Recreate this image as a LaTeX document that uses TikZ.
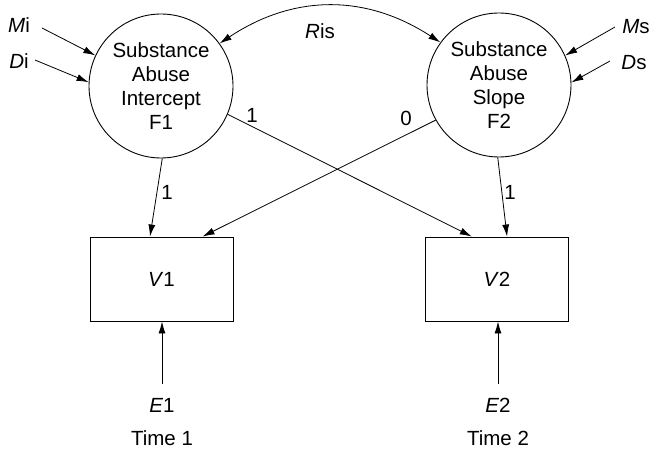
\documentclass[tikz,border=0pt]{standalone}
\usepackage{fontspec}
\setmainfont{Liberation Sans}
\usetikzlibrary{arrows.meta,calc}
\begin{document}
\begin{tikzpicture}[x=1pt,y=-1pt,
  every node/.style={font=\fontsize{20.5}{24}\selectfont},
  latent/.style={draw,circle,line width=0.9pt,minimum size=144pt,inner sep=0pt,align=center},
  observed/.style={draw,rectangle,line width=0.9pt,minimum width=143pt,minimum height=84pt,inner sep=0pt},
  path/.style={line width=0.8pt,-{Latex[length=12pt,width=7pt]}},
  txt/.style={inner sep=0pt}]
\useasboundingbox (0,0) rectangle (654,452);

% latent growth factors
\node[latent] (F1) at (161,86) {Substance\\Abuse\\Intercept\\F1};
\node[latent] (F2) at (499,85) {Substance\\Abuse\\Slope\\F2};

% observed measures
\node[observed] (V1) at (161.5,279) {\textit{V}1};
\node[observed] (V2) at (497,279) {\textit{V}2};

% means and disturbances
\node[txt] (Mi) at (19,25) {\textit{M}i};
\node[txt] (Di) at (19,61) {\textit{D}i};
\node[txt] (Ms) at (636,27) {\textit{M}s};
\node[txt] (Ds) at (634,63) {\textit{D}s};
\coordinate (mi0) at (42,28);
\coordinate (di0) at (35,60);
\coordinate (ms0) at (615,27);
\coordinate (ds0) at (610,61);
\draw[path] (mi0) -- (F1.155);
\draw[path] (di0) -- (F1.177);
\draw[path] (ms0) -- (F2.24);
\draw[path] (ds0) -- (F2.2);

% factor covariance
\node[txt] (Ris) at (320,31) {\textit{R}is};
\draw[line width=0.8pt,{Latex[length=12pt,width=7pt]}-{Latex[length=12pt,width=7pt]}]
  (F1.36) .. controls (294,-6) and (366,-6) .. (F2.144);

% loadings
\draw[path] (F1.-89) -- ($(V1.north west)!0.42!(V1.north east)$);
\draw[path] (F1.-23) -- ($(V2.north west)!0.325!(V2.north east)$);
\draw[path] (F2.-151) -- ($(V1.north west)!0.785!(V1.north east)$);
\draw[path] (F2.-91) -- ($(V2.north west)!0.57!(V2.north east)$);
\node[txt] (l11) at (167,192) {1};
\node[txt] (l12) at (252,115) {1};
\node[txt] (l21) at (406,118) {0};
\node[txt] (l22) at (510,192) {1};

% residuals
\node[txt] (E1) at (162,405) {\textit{E}1};
\node[txt] (E2) at (498,405) {\textit{E}2};
\coordinate (e1top) at (162,384);
\coordinate (e2top) at (498,384);
\draw[path] (e1top) -- (e1top |- V1.south);
\draw[path] (e2top) -- (e2top |- V2.south);

% occasions
\node[txt] (T1) at (162,438) {Time 1};
\node[txt] (T2) at (498,438) {Time 2};
\end{tikzpicture}
\end{document}
